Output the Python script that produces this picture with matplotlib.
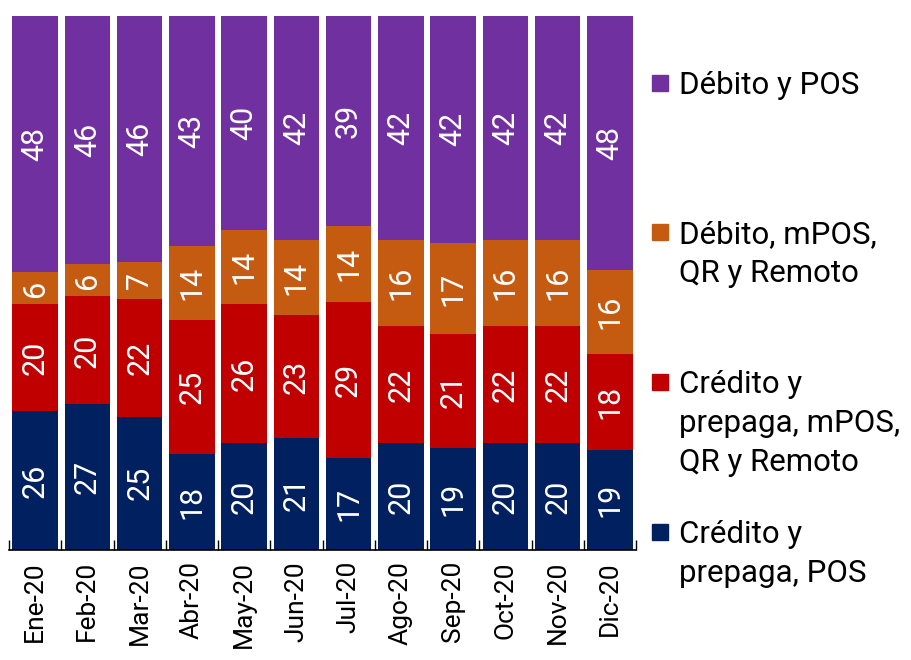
import matplotlib.pyplot as plt
import numpy as np
from matplotlib.patches import Rectangle

plt.rcParams['font.family'] = ['Roboto', 'DejaVu Sans']

months = ['Ene-20', 'Feb-20', 'Mar-20', 'Abr-20', 'May-20', 'Jun-20',
          'Jul-20', 'Ago-20', 'Sep-20', 'Oct-20', 'Nov-20', 'Dic-20']

# bottom to top
credito_pos = [26, 27, 25, 18, 20, 21, 17, 20, 19, 20, 20, 19]
credito_mpos = [20, 20, 22, 25, 26, 23, 29, 22, 21, 22, 22, 18]
debito_mpos = [6, 6, 7, 14, 14, 14, 14, 16, 17, 16, 16, 16]
debito_pos = [48, 46, 46, 43, 40, 42, 39, 42, 42, 42, 42, 48]

series = [credito_pos, credito_mpos, debito_mpos, debito_pos]
names = ['Crédito y\nprepaga, POS',
         'Crédito y\nprepaga, mPOS,\nQR y Remoto',
         'Débito, mPOS,\nQR y Remoto',
         'Débito y POS']
colors = ['#002060', '#C00000', '#C55A11', '#7030A0']

vals = np.array(series, dtype=float)
shares = vals / vals.sum(axis=0) * 100  # 100% stacked

fig = plt.figure(figsize=(9.11, 6.60), dpi=100)
ax = fig.add_axes([9 / 911, 1 - 550 / 660, 627 / 911, 534 / 660])

x = np.arange(len(months))
bottom = np.zeros(len(months))
for i in range(len(series)):
    bars = ax.bar(x, shares[i], 0.87, bottom=bottom, color=colors[i], zorder=2)
    ax.bar_label(bars, labels=[str(v) for v in series[i]], label_type='center',
                 color='white', fontsize=22, rotation=90)
    bottom += shares[i]

ax.set_xlim(-0.5, len(months) - 0.5)
ax.set_ylim(0, 100)
ax.set_yticks([])
for s in ['top', 'right', 'left']:
    ax.spines[s].set_visible(False)
ax.spines['bottom'].set_linewidth(1.2)
ax.set_xticks(x)
ax.set_xticklabels(months, rotation=90, fontsize=19)
ax.tick_params(axis='x', which='major', length=0, pad=8)
ax.set_xticks(np.arange(-0.5, len(months)), minor=True)
ax.tick_params(axis='x', which='minor', direction='in', length=7, width=1)

# legend, placed by hand like the original (one text per line)
baselines = [543, 393, 243, 94]
for i in range(len(series)):
    for k, line in enumerate(names[i].split('\n')):
        yb = 1 - (baselines[i] + 39 * k) / 660
        fig.text(679 / 911, yb, line, fontsize=22.5, va='baseline', ha='left')
    yc = 1 - (baselines[i] - 11) / 660
    fig.add_artist(Rectangle((652 / 911, yc - 8 / 660), 16 / 911, 16 / 660,
                             transform=fig.transFigure, color=colors[i]))

fig.savefig('out.png', dpi=100)
